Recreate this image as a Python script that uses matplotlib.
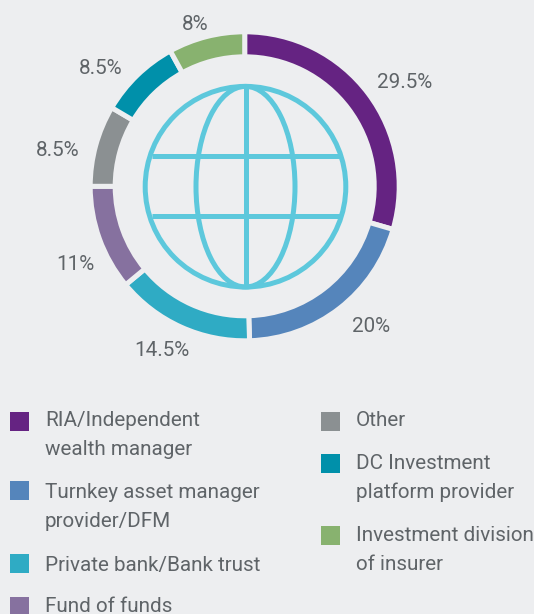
import matplotlib
matplotlib.use("Agg")
import matplotlib.pyplot as plt
from matplotlib.patches import Circle, Ellipse, Rectangle

plt.rcParams['font.family'] = ['Roboto', 'DejaVu Sans']

W, H = 534, 614
BG = '#EDEEF0'
TXT = '#5F6468'
GLOBE = '#5DC8DC'

categories = ['RIA/Independent\nwealth manager', 'Turnkey asset manager\nprovider/DFM',
              'Private bank/Bank trust', 'Fund of funds', 'Other',
              'DC Investment\nplatform provider', 'Investment division\nof insurer']
values = [29.5, 20, 14.5, 11, 8.5, 8.5, 8]
value_labels = ['29.5%', '20%', '14.5%', '11%', '8.5%', '8.5%', '8%']
colors = ['#652382', '#5585BB', '#2FABC4', '#86719F', '#8B9092', '#0090AA', '#88B26F']

fig = plt.figure(figsize=(W/100, H/100), dpi=100, facecolor=BG)
ax = fig.add_axes([0, 0, 1, 1])

cx, cy, R = 244.7, 186.3, 154.5
wedges, _ = ax.pie(values, colors=colors, startangle=90, counterclock=False,
                   center=(cx, cy), radius=R, frame=True,
                   wedgeprops=dict(width=25, edgecolor=BG, linewidth=3.6))
ax.set_xlim(0, W); ax.set_ylim(H, 0); ax.set_aspect('equal'); ax.axis('off')

# y axis is inverted, so mirror the wedge angles to keep the clockwise order
for w in wedges:
    t1, t2 = w.theta1, w.theta2
    w.set_theta1(-t2); w.set_theta2(-t1)

lw = 3.6
gx, gy, gr = 245.5, 186.7, 100.3
ax.add_patch(Circle((gx, gy), gr, fill=False, ec=GLOBE, lw=lw))
ax.add_patch(Ellipse((gx, gy), 99, 2*gr, fill=False, ec=GLOBE, lw=lw))
ax.plot([gx, gx], [gy-gr, gy+gr], color=GLOBE, lw=lw, solid_capstyle='butt')
for yy in (155.7, 215.7):
    ax.plot([gx-94, gx+94], [yy, yy], color=GLOBE, lw=lw, solid_capstyle='butt')

fs = 14.85
lab_pos = [(405, 83), (371, 327), (162, 350), (75, 264), (58, 150), (101, 68), (195, 25)]
for (x, y), s in zip(lab_pos, value_labels):
    ax.text(x, y, s, ha='center', va='center', fontsize=fs, color=TXT)

leg = [(10, 421.5), (10, 490.5), (10, 563), (10, 606), (321, 421.5), (321, 463.5), (321, 535.5)]
tx_y = [(45, 435), (45, 507), (45, 565), (45, 607), (356, 421), (356, 478), (356, 550)]
for (x, y), (tx, ty), c, s in zip(leg, tx_y, colors, categories):
    ax.add_patch(Rectangle((x, y-9.5), 19, 19, fc=c, ec='none'))
    ax.text(tx, ty, s, ha='left', va='center', fontsize=fs, color=TXT, linespacing=1.65)

fig.savefig('out.png', dpi=100, facecolor=BG)
